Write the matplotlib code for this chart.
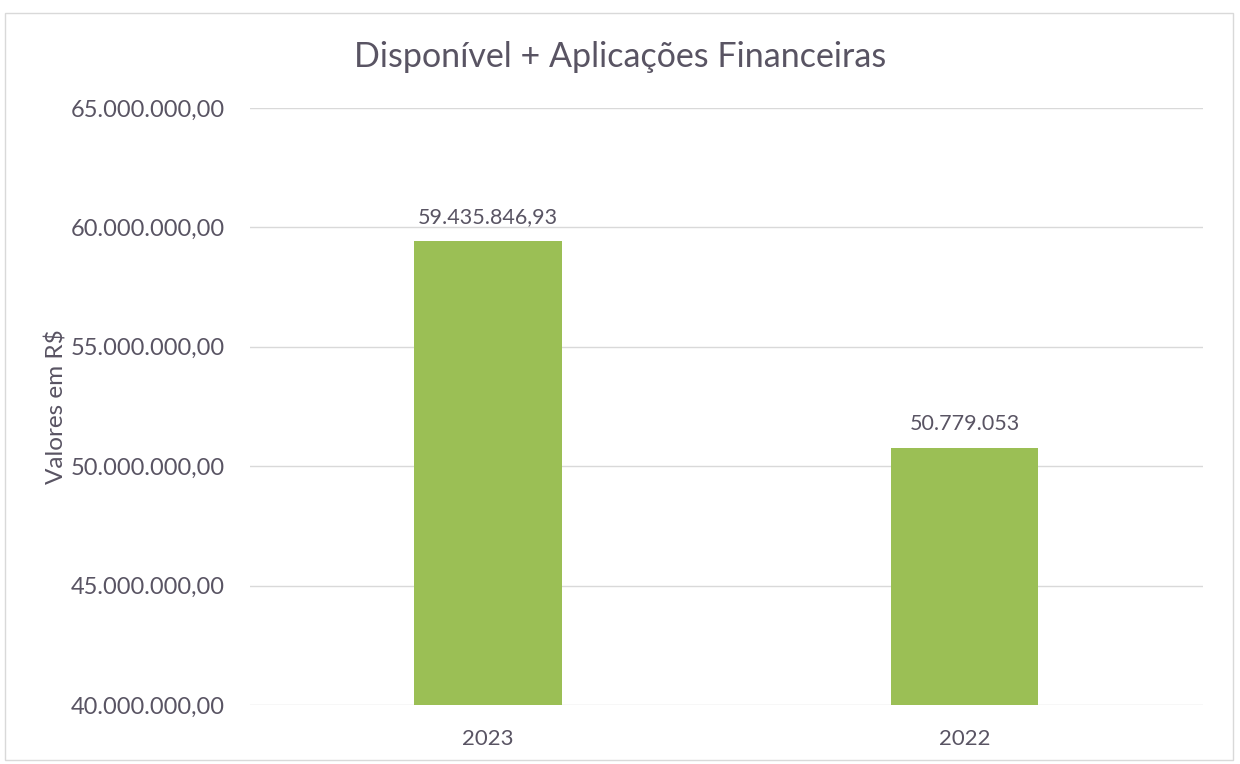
import matplotlib.pyplot as plt
from matplotlib.patches import Rectangle

anos = ['2023', '2022']
valores = [59435846.93, 50779053.0]
rotulos = ['59.435.846,93', '50.779.053']
ticks_y = [40000000, 45000000, 50000000, 55000000, 60000000, 65000000]
ticks_y_txt = ['40.000.000,00', '45.000.000,00', '50.000.000,00',
               '55.000.000,00', '60.000.000,00', '65.000.000,00']

cor_texto = '#595463'
cor_barra = '#9BBF55'

plt.rcParams['font.family'] = ['Lato', 'DejaVu Sans']

fig = plt.figure(figsize=(12.4, 7.64), dpi=100)
ax = fig.add_axes([0.2015, 0.0772, 0.7685, 0.7814])

x = range(len(anos))
ax.bar(list(x), valores, width=0.31, color=cor_barra, zorder=3)
for i, (v, r) in enumerate(zip(valores, rotulos)):
    ax.annotate(r, (i, v), xytext=(0, 10), textcoords='offset points',
                ha='center', va='bottom', fontsize=15.5, color=cor_texto)

ax.set_xlim(-0.5, 1.5)
ax.set_ylim(40000000, 65000000)
ax.set_xticks(list(x))
ax.set_xticklabels(anos, fontsize=16, color=cor_texto)
ax.set_yticks(ticks_y)
ax.set_yticklabels(ticks_y_txt, fontsize=17, color=cor_texto)
ax.tick_params(length=0, pad=18)
ax.tick_params(axis='x', pad=17)
ax.set_ylabel('Valores em R$', fontsize=17.5, color=cor_texto, labelpad=2)
ax.grid(axis='y', color='#d9d9d9', linewidth=1, zorder=0)
for s in ax.spines.values():
    s.set_visible(False)

fig.text(0.5, 0.925, 'Disponível + Aplicações Financeiras', ha='center', va='center',
         fontsize=24.5, color=cor_texto)

fig.patches.append(Rectangle((0.004, 0.005), 0.99, 0.978, transform=fig.transFigure,
                             fill=False, edgecolor='#d9d9d9', linewidth=1))

fig.savefig('out.png', dpi=100)
